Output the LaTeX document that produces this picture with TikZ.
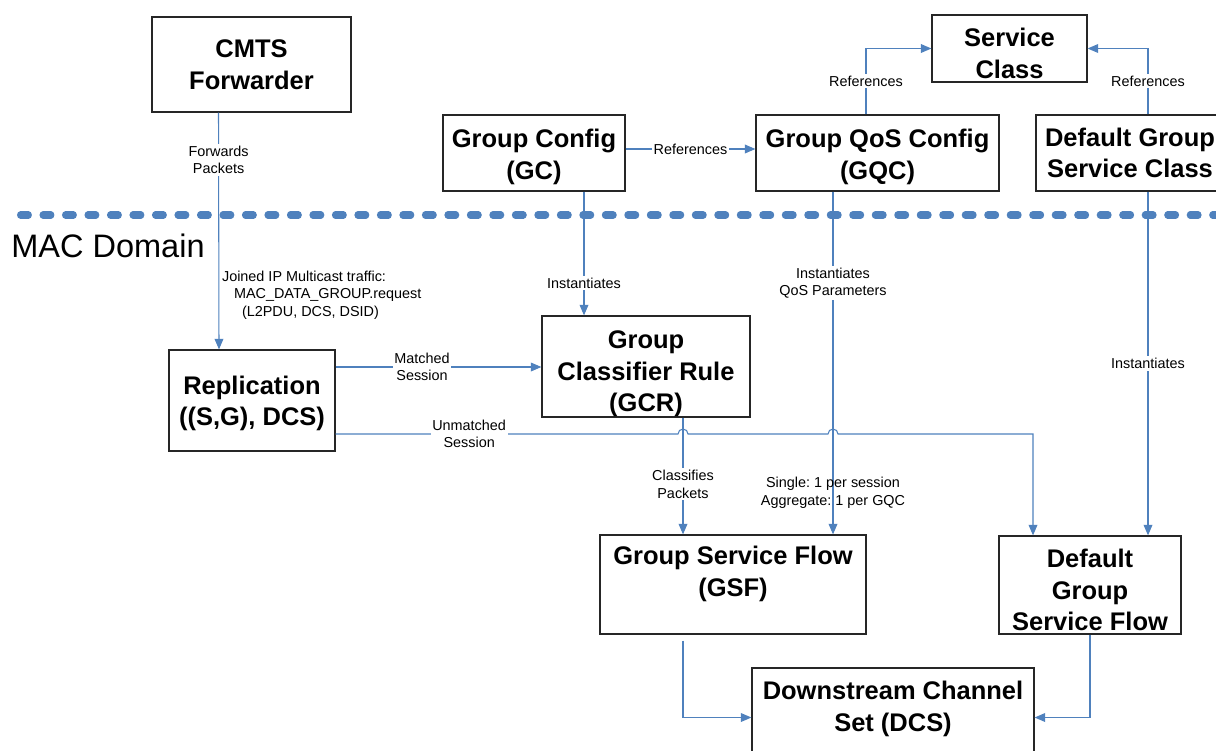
\documentclass[tikz,border=0pt]{standalone}
\usepackage{fontspec}
\setmainfont{Liberation Sans}
\usetikzlibrary{arrows.meta}
\definecolor{linkblue}{RGB}{79,129,189}

\begin{document}
\frenchspacing
\begin{tikzpicture}[x=0.2mm, y=-0.2mm,
    box/.style={draw=black!85, line width=0.7pt, inner sep=0pt},
    boxtext/.style={align=center, inner sep=0pt, font=\fontsize{14.5}{18}\selectfont\bfseries},
    link/.style={draw=linkblue, line width=0.6pt},
    arr/.style={link, -{Triangle[length=6pt, width=5pt]}},
    lbl/.style={font=\fontsize{8.2}{10}\selectfont, align=center, inner sep=1pt},
    domainline/.style={draw=linkblue, line width=4pt, line cap=round, dash pattern=on 4.5pt off 8.3pt}
]
    \useasboundingbox (0,0) rectangle (1216,750);
    \clip (0,0) rectangle (1216,750);

    % Domain border
    \draw[domainline] (20.5,215) -- (1240,215);
    \node[anchor=west, inner sep=0pt, font=\fontsize{18.5}{22}\selectfont] (macdom) at (11,246) {MAC Domain};

    % Upper boxes
    \node[box, minimum width=39.8mm, minimum height=19mm,
        label={[boxtext]center:{CMTS\\Forwarder}}] (cmts) at (251.5,64.5) {};
    \node[box, minimum width=36.4mm, minimum height=15.2mm,
        label={[boxtext, yshift=-2.3pt]center:{Group Config\\(GC)}}] (gc) at (534,153) {};
    \node[box, minimum width=48.6mm, minimum height=15.2mm,
        label={[boxtext, yshift=-2.3pt]center:{Group QoS Config\\(GQC)}}] (gqc) at (877.5,153) {};
    \node[box, minimum width=31mm, minimum height=13.4mm,
        label={[boxtext, yshift=-2.8pt]center:{Service\\Class}}] (sc) at (1009.5,48.5) {};
    \node[box, minimum width=37.6mm, minimum height=15.2mm,
        label={[boxtext]center:{Default Group\\Service Class}}] (dgsc) at (1130,153) {};

    % Lower boxes
    \node[box, minimum width=33.2mm, minimum height=20.2mm,
        label={[boxtext, yshift=-1.7pt]center:{Replication\\((S,G), DCS)}}] (rep) at (252,400.5) {};
    \node[box, minimum width=41.6mm, minimum height=20.2mm,
        label={[boxtext, yshift=-4.2pt]center:{Group\\Classifier Rule\\(GCR)}}] (gcr) at (646,366.5) {};
    \node[box, minimum width=53.2mm, minimum height=19.8mm,
        label={[boxtext, yshift=6.2pt]center:{Group Service Flow\\(GSF)}}] (gsf) at (733,584.5) {};
    \node[box, minimum width=36.4mm, minimum height=19.6mm,
        label={[boxtext, yshift=-2.8pt]center:{Default\\Group\\Service Flow}}] (dgsf) at (1090,585) {};
    \node[box, minimum width=56.4mm, minimum height=19.8mm,
        label={[boxtext, yshift=4.8pt]center:{Downstream Channel\\Set (DCS)}}] (dcs) at (893,717.5) {};

    % References
    \draw[arr] ([yshift=0.8mm]gc.east) -- ([yshift=0.8mm]gqc.west)
        node[midway, lbl, fill=white] {References};
    \draw[arr] ([xshift=-2.3mm]gqc.north) |- (sc.west)
        node[pos=0.25, lbl, fill=white] {References};
    \draw[arr] ([xshift=3.6mm]dgsc.north) |- (sc.east)
        node[pos=0.25, lbl, fill=white] {References};

    % Forwarding into the MAC domain
    \draw[arr] ([xshift=-6.6mm]cmts.south) -- ([xshift=-6.6mm]rep.north)
        node[pos=0.2, lbl, fill=white] {Forwards\\Packets}
        node[pos=0.77, right, lbl, align=left, inner sep=1.5pt] {Joined IP Multicast traffic:\\\hspace*{2.4mm}MAC\_DATA\_GROUP.request\\\hspace*{4mm}(L2PDU, DCS, DSID)};

    % Instantiation
    \draw[arr] ([xshift=10mm]gc.south) -- ([xshift=10mm]gc.south |- gcr.north)
        node[pos=0.74, lbl, fill=white] {Instantiates};
    \draw[arr] ([xshift=-8.9mm]gqc.south) -- ([xshift=-8.9mm]gqc.south |- gsf.north)
        node[pos=0.267, lbl, fill=white] {Instantiates\\QoS Parameters}
        node[pos=0.878, lbl] {Single: 1 per session\\Aggregate: 1 per GQC};
    \draw[arr] ([xshift=3.6mm]dgsc.south) -- ([xshift=3.6mm]dgsc.south |- dgsf.north)
        node[pos=0.5, lbl, fill=white] {Instantiates};

    % Classification
    \draw[arr] ([xshift=7.4mm]gcr.south) -- ([xshift=7.4mm]gcr.south |- gsf.north)
        node[pos=0.57, lbl, fill=white] {Classifies\\Packets};

    % Sessions out of replication
    \draw[arr] ([yshift=6.7mm]rep.east) -- ([yshift=6.7mm]rep.east -| gcr.west)
        node[pos=0.42, lbl, fill=white] {Matched\\Session};
    \coordinate (un0) at ([yshift=-6.7mm]rep.east);
    \coordinate (hopA) at ([xshift=7.4mm]gcr.south |- un0);
    \coordinate (hopB) at ([xshift=-8.9mm]gqc.south |- un0);
    \coordinate (un1) at ([xshift=-11.4mm]dgsf.north |- un0);
    \draw[arr] (un0) -- node[pos=0.39, lbl, fill=white] {Unmatched\\Session} ([xshift=-1mm]hopA)
        arc[start angle=180, end angle=0, radius=1mm] -- ([xshift=-1mm]hopB)
        arc[start angle=180, end angle=0, radius=1mm] -- (un1) -- ([xshift=-11.4mm]dgsf.north);

    % Flows onto the channel set
    \draw[arr] ([xshift=-10mm, yshift=-1.2mm]gsf.south) |- (dcs.west);
    \draw[arr] (dgsf.south) |- (dcs.east);
\end{tikzpicture}
\end{document}
